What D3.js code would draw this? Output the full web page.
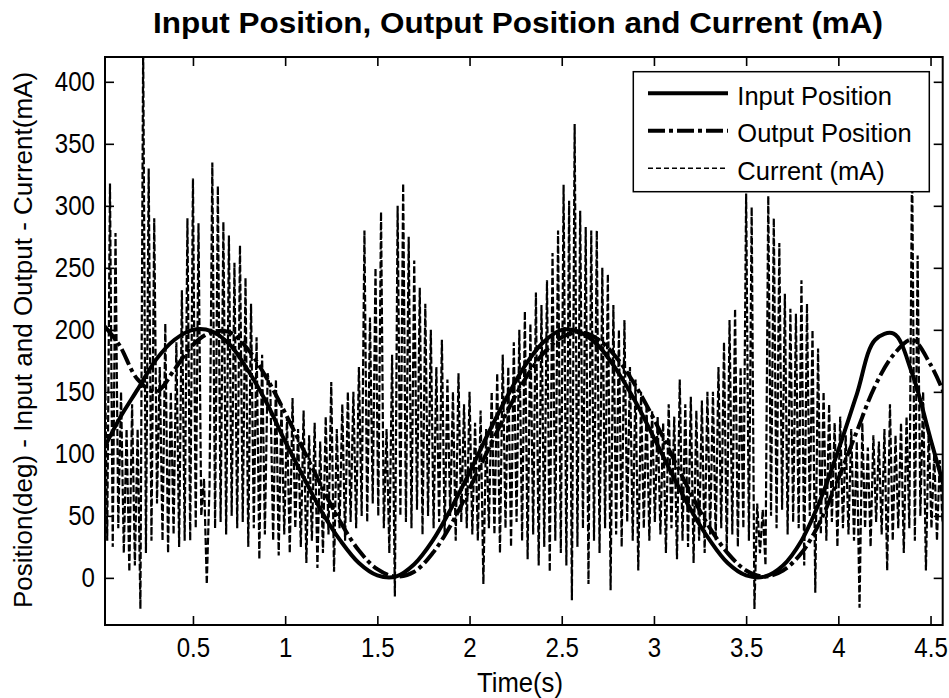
<!DOCTYPE html>
<html>
<head>
<meta charset="utf-8">
<script src="https://cdn.jsdelivr.net/npm/d3@7"></script>
<style>
  html, body { margin: 0; padding: 0; background: #ffffff; }
  svg { display: block; }
</style>
</head>
<body>
<svg id="chart" width="949" height="698"></svg>
<script>
// ---- data ----
const positionTime = [0.02, 0.1, 0.2, 0.3, 0.4, 0.5, 0.6, 0.7, 0.8, 0.9,
  1.0, 1.1, 1.2, 1.3, 1.4, 1.5, 1.6, 1.7, 1.8, 1.9,
  2.0, 2.1, 2.2, 2.3, 2.4, 2.5, 2.6, 2.7, 2.8, 2.9,
  3.0, 3.1, 3.2, 3.3, 3.4, 3.5, 3.6, 3.7, 3.8, 3.9,
  4.0, 4.1, 4.2, 4.3, 4.4, 4.5, 4.57];

const inputPosition = [105, 128, 152, 176, 192, 200, 199, 188, 167, 141,
  110, 81, 53, 30, 12, 2, 1, 11, 30, 56,
  85, 116, 145, 171, 190, 200, 198, 187, 167, 142,
  113, 83, 55, 31, 12, 2, 1, 10, 30, 62,
  103, 148, 192, 197, 165, 112, 75];

const outputPosition = [203, 188, 160, 150, 168, 188, 198, 198, 184, 161,
  133, 103, 73, 45, 22, 7, 1, 5, 20, 43,
  72, 103, 133, 160, 181, 194, 198, 192, 177, 155,
  128, 98, 68, 41, 20, 6, 1, 6, 20, 45,
  80, 118, 155, 180, 192, 172, 150];

// current is sampled every 15 ms starting at 0.02 s
const currentStart = 0.02;
const currentStep = 0.015;
const currentMA = [
  210, 30, 318, 25, 278, 40, 150, 20, 120, 5,
  140, 10, 120, -25, 430, 20, 330, 30, 290, 60,
  170, 30, 205, 20, 150, 35, 190, 25, 232, 30,
  290, 30, 322, 40, 286, 50, 80, -5, 75, 335,
  40, 316, 45, 287, 35, 276, 50, 254, 40, 268,
  45, 242, 25, 221, 40, 194, 15, 180, 35, 165,
  150, 30, 160, 18, 140, 35, 130, 20, 145, 40,
  120, 25, 135, 12, 115, 30, 125, 8, 110, 20,
  130, 35, 158, 5, 120, 40, 140, 30, 150, 45,
  150, 40, 170, 50, 280, 45, 210, 60, 250, 50,
  295, 40, 120, 20, 180, -15, 300, 50, 318, 45,
  275, 40, 256, 55, 234, 35, 221, 50, 200, 40,
  170, 45, 192, 35, 160, 50, 150, 30, 165, 45,
  140, 40, 150, 35, 125, 30, 135, -5, 120, 40,
  150, 35, 165, 20, 180, 40, 170, 25, 190, 45,
  200, 30, 215, 15, 205, 35, 230, 10, 220, 25,
  240, 5, 262, 30, 280, 20, 317, 10, 304, -18,
  366, 25, 296, 40, 283, -5, 280, 30, 280, 20,
  250, 40, 245, -10, 220, 35, 200, 25, 208, 45,
  170, 30, 160, 6, 150, 40, 140, 30, 135, 45,
  130, 35, 125, 20, 140, 40, 130, 15, 160, 30,
  140, 25, 146, 12, 135, 30, 143, 20, 150, 35,
  150, 30, 170, 40, 190, 20, 208, 35, 217, 25,
  170, 40, 310, 30, 299, -25, 60, 20, 55, 10,
  308, 50, 290, 40, 270, 55, 229, 35, 217, 45,
  213, 40, 240, 10, 221, 50, 200, -12, 185, 35,
  150, 30, 140, 45, 125, 25, 130, 40, 115, 35,
  120, 30, 110, -24, 125, 40, 105, 25, 115, 45,
  110, 35, 120, 6, 140, 30, 115, 40, 125, 20,
  130, 40, 340, 30, 260, 50, 150, 6, 120, 40,
  100, 30, 95, 45, 110, 35, 90, 40, 100, 30
];

const xTicks = [0.5, 1, 1.5, 2, 2.5, 3, 3.5, 4, 4.5];
const yTicks = [0, 50, 100, 150, 200, 250, 300, 350, 400];
const legendLabels = ["Input Position", "Output Position", "Current (mA)"];

// ---- layout ----
const margin = { top: 57, right: 6.3, bottom: 73, left: 105 };
const W = 949, H = 698;
const width = W - margin.left - margin.right;
const height = H - margin.top - margin.bottom;

const svg = d3.select("#chart");
const g = svg.append("g").attr("transform", `translate(${margin.left}, ${margin.top})`);

const x = d3.scaleLinear().domain([0.023, 4.566]).range([0, width]);
const y = d3.scaleLinear().domain([-38, 420]).range([height, 0]);

const font = "'Liberation Sans', Arial, sans-serif";
const squeezeK = 0.86; // the figure's tick labels are tall and narrow

// clip the traces to the axes box
g.append("clipPath").attr("id", "plotClip")
  .append("rect").attr("width", width).attr("height", height);

const plot = g.append("g").attr("clip-path", "url(#plotClip)");

const posPoints = positionTime.map((t, i) => ({ t: t, inp: inputPosition[i], out: outputPosition[i] }));
const curPoints = currentMA.map((v, i) => ({ t: currentStart + i * currentStep, v: v }));

// input position (thick solid)
plot.append("path")
  .datum(posPoints)
  .attr("fill", "none")
  .attr("stroke", "#000")
  .attr("stroke-width", 4)
  .attr("d", d3.line().x(d => x(d.t)).y(d => y(d.inp)).curve(d3.curveCatmullRom));

// output position (thick dash-dot)
plot.append("path")
  .datum(posPoints)
  .attr("fill", "none")
  .attr("stroke", "#000")
  .attr("stroke-width", 4)
  .attr("stroke-dasharray", "17,4,4,4")
  .attr("d", d3.line().x(d => x(d.t)).y(d => y(d.out)).curve(d3.curveCatmullRom));

// current (thin dashed)
plot.append("path")
  .datum(curPoints)
  .attr("fill", "none")
  .attr("stroke", "#000")
  .attr("stroke-width", 2.2)
  .attr("stroke-dasharray", "7,2.5")
  .attr("d", d3.line().x(d => x(d.t)).y(d => y(d.v)));

// ---- axes, ticks pointing inward on all four sides ----
const tickLen = 9;
const xAxis = g.append("g")
  .attr("transform", `translate(0, ${height})`)
  .call(d3.axisBottom(x).tickValues(xTicks).tickFormat(d3.format("")).tickSizeInner(-tickLen).tickSizeOuter(0).tickPadding(12));
const yAxis = g.append("g")
  .call(d3.axisLeft(y).tickValues(yTicks).tickSizeInner(-tickLen).tickSizeOuter(0).tickPadding(10));
g.append("g")
  .call(d3.axisTop(x).tickValues(xTicks).tickFormat("").tickSizeInner(-tickLen).tickSizeOuter(0));
g.append("g")
  .attr("transform", `translate(${width}, 0)`)
  .call(d3.axisRight(y).tickValues(yTicks).tickFormat("").tickSizeInner(-tickLen).tickSizeOuter(0));

g.selectAll(".domain").remove();
g.selectAll(".tick line").attr("stroke", "#000").attr("stroke-width", 1.6);
[xAxis, yAxis].forEach(a => a.selectAll("text")
  .attr("fill", "#000")
  .style("font-family", font)
  .style("font-size", "28px"));

// narrow the tick labels with a horizontal scale, keeping their anchor points
xAxis.selectAll("text").attr("transform", `scale(${squeezeK}, 1)`);
yAxis.selectAll("text")
  .attr("x", -10 / squeezeK)
  .attr("transform", `scale(${squeezeK}, 1)`);

// box
g.append("rect")
  .attr("width", width)
  .attr("height", height)
  .attr("fill", "none")
  .attr("stroke", "#000")
  .attr("stroke-width", 2);

// ---- legend ----
const legend = g.append("g").attr("transform", `translate(${633.3 - margin.left}, ${71.7 - margin.top})`);
legend.append("rect")
  .attr("width", 296)
  .attr("height", 120)
  .attr("fill", "#fff")
  .attr("stroke", "#000")
  .attr("stroke-width", 1.5);

const legendStyles = [
  { w: 4, dash: null },
  { w: 4, dash: "17,4,4,4" },
  { w: 1.6, dash: "5,3" }
];
legendLabels.forEach((label, i) => {
  const ly = 21.6 + i * 37.5;
  legend.append("line")
    .attr("x1", 14.7).attr("x2", 94.7)
    .attr("y1", ly).attr("y2", ly)
    .attr("stroke", "#000")
    .attr("stroke-width", legendStyles[i].w)
    .attr("stroke-dasharray", legendStyles[i].dash);
  legend.append("text")
    .attr("x", 104)
    .attr("y", ly + 11.5)
    .attr("font-family", font)
    .attr("font-size", "25.5px")
    .text(label);
});

// ---- titles ----
svg.append("text")
  .attr("x", 518)
  .attr("y", 33)
  .attr("text-anchor", "middle")
  .attr("font-family", font)
  .attr("font-weight", "bold")
  .attr("font-size", "29px")
  .attr("textLength", 730)
  .attr("lengthAdjust", "spacingAndGlyphs")
  .text("Input Position, Output Position and Current (mA)");

svg.append("text")
  .attr("x", 520)
  .attr("y", 692)
  .attr("text-anchor", "middle")
  .attr("font-family", font)
  .attr("font-size", "27px")
  .attr("textLength", 86)
  .attr("lengthAdjust", "spacingAndGlyphs")
  .text("Time(s)");

svg.append("text")
  .attr("transform", "translate(31.5, 340) rotate(-90)")
  .attr("text-anchor", "middle")
  .attr("font-family", font)
  .attr("font-size", "26px")
  .text("Position(deg) - Input and Output - Current(mA)");
</script>
</body>
</html>
